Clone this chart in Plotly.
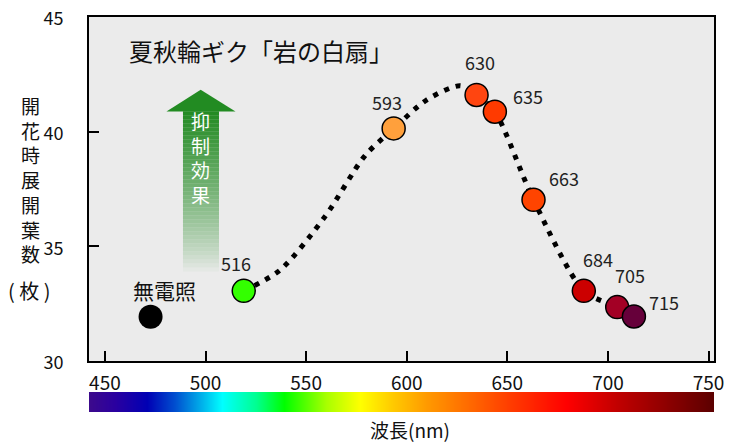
import plotly.graph_objects as go

FONT = "Noto Sans CJK JP"

# 測定データ (ラベル, 描画位置 x, 開花時展開葉数)
peak_labels = ["516", "593", "630", "635", "663", "684", "705", "715"]
peak_x = [519.0, 593.5, 634.7, 643.8, 663.0, 688.0, 704.6, 712.9]
leaves = [33.06, 40.14, 41.60, 40.87, 37.03, 33.06, 32.35, 31.94]
marker_colors = ["#33FF00", "#FFA03C", "#FF4510", "#FF3A00", "#FF4400",
                 "#CC0000", "#A30025", "#66003A"]
label_shift = [(-8, 28), (-7, 26), (3, 33), (33, 16), (30, 22), (14, 32), (13, 32), (30, 15)]

# 点線の近似曲線
curve_x = [519.0, 537.0, 559.4, 579.3, 593.5, 610.0, 626.5, 634.7, 643.8, 663.0, 688.0, 704.6, 712.9]
curve_y = [33.06, 33.96, 36.30, 38.96, 40.13, 41.39, 42.00, 41.60, 40.87, 37.03, 33.06, 32.35, 31.94]

# 無電照
dark_x = [472.7]
dark_leaves = [31.93]

# 波長スペクトルバー (nm, 色)
spec_nm = [442, 455, 471, 485, 497, 508, 525, 539, 560, 577, 592, 610, 640, 679, 705, 753]
spec_col = ["#3C0A8C", "#2A00A0", "#0000B4", "#0050D0", "#00A8E8", "#00FFFF", "#00FF90",
            "#00FF00", "#A8FF00", "#FFFF00", "#FFCC00", "#FF9900", "#FF5500", "#FF0000",
            "#C00000", "#5A0000"]

x_range = [442.1, 752.7]

fig = go.Figure()

# 抑制効果の矢印（グラデーション）
shaft_top, shaft_bot = 40.88, 33.9
n = 40
for i in range(n):
    y0 = shaft_bot + (shaft_top - shaft_bot) * i / n
    y1 = shaft_bot + (shaft_top - shaft_bot) * (i + 1) / n
    a = ((i + 0.5) / n) ** 0.8
    r = int(235 + (34 - 235) * a)
    g = int(235 + (139 - 235) * a)
    b = int(235 + (34 - 235) * a)
    fig.add_shape(type="rect", x0=488.8, x1=506.7, y0=y0, y1=y1 + 0.01,
                  fillcolor=f"rgb({r},{g},{b})", line_width=0, layer="below")
fig.add_shape(type="path", path="M 480.6 40.88 L 497.6 41.83 L 514.9 40.88 Z",
              fillcolor="#228B22", line_width=0, layer="below")

# 点線曲線
fig.add_trace(go.Scatter(
    x=curve_x, y=curve_y, mode="lines",
    line=dict(color="black", width=5, dash="5px,7px", shape="spline", smoothing=0.8),
    hoverinfo="skip", showlegend=False
))
fig.add_trace(go.Scatter(
    x=peak_x, y=leaves, mode="markers",
    marker=dict(size=23, color=marker_colors, line=dict(color="black", width=1.5)),
    text=peak_labels, showlegend=False
))
fig.add_trace(go.Scatter(
    x=dark_x, y=dark_leaves, mode="markers",
    marker=dict(size=24, color="black"), showlegend=False
))

# スペクトルバー
lo, hi = spec_nm[0], spec_nm[-1]
cscale = [[(v - lo) / (hi - lo), c] for v, c in zip(spec_nm, spec_col)]
fig.add_trace(go.Heatmap(
    x=spec_nm, y=[0, 1], z=[spec_nm, spec_nm], colorscale=cscale,
    zsmooth="best", showscale=False, hoverinfo="skip",
    xaxis="x2", yaxis="y2"
))

annotations = []
for lab, x, y, (dx, dy) in zip(peak_labels, peak_x, leaves, label_shift):
    annotations.append(dict(x=x, y=y, text=lab, showarrow=False, xshift=dx, yshift=dy,
                            xanchor="center", yanchor="middle",
                            font=dict(size=18, color="#222")))
annotations += [
    dict(x=dark_x[0], y=dark_leaves[0], text="無電照", showarrow=False, xshift=14, yshift=27,
         xanchor="center", yanchor="middle", font=dict(size=21, color="#111")),
    dict(xref="paper", yref="paper", x=0.061, y=(413 - 50) / 396, xanchor="left", yanchor="middle",
         text="夏秋輪ギク「岩の白扇」", showarrow=False, font=dict(size=24, color="#111")),
    dict(x=497.6, y=38.87, text="抑<br>制<br>効<br>果", showarrow=False,
         xanchor="center", yanchor="middle", font=dict(size=19, color="white")),
    dict(xref="paper", yref="paper", x=-0.094, y=(413 - 179) / 396,
         text="開<br>花<br>時<br>展<br>開<br>葉<br>数", xanchor="center", yanchor="middle",
         showarrow=False, font=dict(size=19, color="#111")),
    dict(xref="paper", yref="paper", x=(29 - 89) / 625, y=(413 - 290) / 396, text="( 枚 )",
         xanchor="center", yanchor="middle",
         showarrow=False, font=dict(size=20, color="#111")),
    dict(xref="paper", yref="paper", x=0.514, y=(413 - 430) / 396, text="波長(nm)",
         xanchor="center", yanchor="middle",
         showarrow=False, font=dict(size=19, color="#111")),
]

fig.update_layout(
    width=733, height=443,
    margin=dict(l=81, r=27, t=9, b=38),
    paper_bgcolor="white", plot_bgcolor="#EBEBEB",
    font=dict(family=FONT, color="#111"),
    xaxis=dict(range=x_range, tickvals=[450, 500, 550, 600, 650, 700, 750],
               ticks="inside", ticklen=10, tickwidth=2, tickcolor="black",
               showline=True, linecolor="black", linewidth=2, mirror=True,
               showgrid=False, zeroline=False, tickfont=dict(size=19),
               ticklabelstandoff=4, anchor="y", automargin=False,
               ticklabeloverflow="allow"),
    yaxis=dict(range=[30, 45], tickvals=[30, 35, 40, 45], domain=[0.1313, 1],
               ticks="inside", ticklen=10, tickwidth=2, tickcolor="black",
               showline=True, linecolor="black", linewidth=2, mirror=True,
               showgrid=False, zeroline=False, tickfont=dict(size=18),
               ticklabelstandoff=20, ticklabelshift=2, automargin=False,
               ticklabeloverflow="allow"),
    xaxis2=dict(range=x_range, domain=[0, 1], anchor="y2", visible=False),
    yaxis2=dict(range=[0, 1], domain=[0.0025, 0.053], anchor="x2", visible=False),
    annotations=annotations,
)

fig.write_html("out.html")
